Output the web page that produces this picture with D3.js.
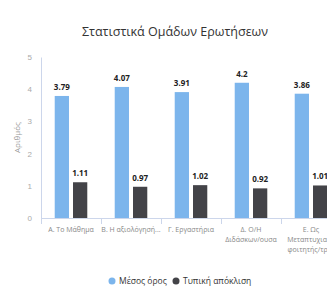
<!DOCTYPE html>
<html>
<head>
<meta charset="utf-8">
<script src="https://cdn.jsdelivr.net/npm/d3@7"></script>
<style>
  body { margin: 0; background: #fff; }
  svg { display: block; font-family: "Open Sans", sans-serif; }
</style>
</head>
<body>
<svg id="chart" width="327" height="290"></svg>
<script>
// Δεδομένα
var katagorie = ["Α. Το Μάθημα", "Β. Η αξιολόγησή...", "Γ. Εργαστήρια", "Δ. Ο/Η Διδάσκων/ουσα", "Ε. Ως Μεταπτυχιακό φοιτητής/τρια"];
var stitky = [["Α. Το Μάθημα"], ["Β. Η αξιολόγησή..."], ["Γ. Εργαστήρια"], ["Δ. Ο/Η", "Διδάσκων/ουσα"], ["Ε. Ως", "Μεταπτυχιακό", "φοιτητής/τρια"]];
var mesosOros = [3.79, 4.07, 3.91, 4.2, 3.86];
var typikiApoklisi = [1.11, 0.97, 1.02, 0.92, 1.01];
var serie = ["Μέσος όρος", "Τυπική απόκλιση"];
var barvy = ["#7cb5ec", "#434348"];
var yTicks = [0, 1, 2, 3, 4, 5];

var svg = d3.select("#chart");

// Plocha grafu (pravý okraj je oříznutý jako v originále)
var pLeft = 41, pRight = 341, pTop = 57, pBottom = 218;

var x = d3.scaleBand().domain(katagorie).range([pLeft, pRight]);
var xSub = d3.scaleBand().domain(serie).range([0, x.bandwidth()]).paddingInner(0.22).paddingOuter(0.75);
var y = d3.scaleLinear().domain([0, 5]).range([pBottom, pTop]);

// Nadpis
svg.append("text")
    .attr("x", 175).attr("y", 36)
    .attr("text-anchor", "middle")
    .attr("fill", "#333")
    .style("font-size", "12.5px")
    .text("Στατιστικά Ομάδων Ερωτήσεων");

// Osa Y
var yAxis = svg.append("g")
    .attr("transform", "translate(" + pLeft + ",0)")
    .call(d3.axisLeft(y).tickValues(yTicks).tickFormat(d3.format("d")).tickSize(0).tickPadding(9));
yAxis.select(".domain").attr("stroke", "#ccd6eb");
yAxis.selectAll("text").attr("fill", "#aaa").style("font-size", "8px");

svg.append("text")
    .attr("transform", "translate(20," + ((pTop + pBottom) / 2) + ") rotate(-90)")
    .attr("text-anchor", "middle")
    .attr("fill", "#999")
    .style("font-size", "8px")
    .text("Αριθμός");

// Osa X
svg.append("line")
    .attr("x1", pLeft).attr("x2", pRight)
    .attr("y1", pBottom + 0.5).attr("y2", pBottom + 0.5)
    .attr("stroke", "#ccd6eb");

katagorie.forEach(function (k, i) {
    svg.append("line")
        .attr("x1", x(k) + 0.5).attr("x2", x(k) + 0.5)
        .attr("y1", pBottom).attr("y2", pBottom + 6)
        .attr("stroke", "#ccd6eb");
});

var lbl = svg.append("g").selectAll("text")
    .data(katagorie)
    .enter()
    .append("text")
    .attr("x", d => x(d) + x.bandwidth() / 2)
    .attr("y", pBottom + 14)
    .attr("text-anchor", "middle")
    .attr("fill", "#888")
    .style("font-size", "7px");

lbl.each(function (d, i) {
    var t = d3.select(this);
    stitky[i].forEach(function (r, j) {
        t.append("tspan")
            .attr("x", x(d) + x.bandwidth() / 2)
            .attr("dy", j === 0 ? 0 : 10)
            .text(r);
    });
});

// Sloupce
var data = [mesosOros, typikiApoklisi];

data.forEach(function (hodnoty, s) {
    var g = svg.append("g");
    g.selectAll("rect")
        .data(hodnoty)
        .enter()
        .append("rect")
        .attr("x", (d, i) => x(katagorie[i]) + xSub(serie[s]))
        .attr("y", d => y(d))
        .attr("width", xSub.bandwidth())
        .attr("height", d => pBottom - y(d))
        .attr("fill", barvy[s]);

    g.selectAll("text")
        .data(hodnoty)
        .enter()
        .append("text")
        .attr("x", (d, i) => x(katagorie[i]) + xSub(serie[s]) + xSub.bandwidth() / 2)
        .attr("y", d => y(d) - 6)
        .attr("text-anchor", "middle")
        .attr("fill", "#222")
        .style("font-size", "8px")
        .style("font-weight", "bold")
        .text(d => d);
});

// Legenda
var legendX = [112, 176];
serie.forEach(function (s, i) {
    svg.append("circle")
        .attr("cx", legendX[i]).attr("cy", 281)
        .attr("r", 3.5)
        .attr("fill", barvy[i]);
    svg.append("text")
        .attr("x", legendX[i] + 7).attr("y", 284)
        .attr("fill", "#333")
        .style("font-size", "8.5px")
        .text(s);
});
</script>
</body>
</html>
